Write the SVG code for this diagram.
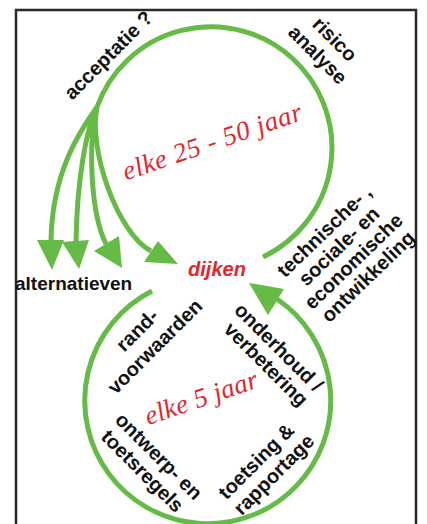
<svg xmlns="http://www.w3.org/2000/svg" width="427" height="524" viewBox="0 0 427 524">
  <style>
    .lbl { font-family: "Liberation Sans", Arial, sans-serif; font-weight: bold; font-size: 20px; fill: #111; text-anchor: middle; }
    .hand { font-family: "Liberation Serif", "Times New Roman", serif; font-style: italic; font-size: 27px; fill: #e3262b; text-anchor: middle; }
    .flow { fill: none; stroke: #66bb46; stroke-width: 5; stroke-linecap: butt; }
    .head { fill: #66bb46; stroke: none; }
    .frame { fill: none; stroke: #2a2a2a; stroke-width: 2.5; }
  </style>
  <rect x="0" y="0" width="427" height="524" fill="#ffffff"/>
  <rect class="frame" x="16" y="10" width="400" height="530"/>

  <g id="connectors">
    <!-- top cycle (elke 25 - 50 jaar) -->
    <path class="flow" d="M263,257 A121,121 0 1 0 97,107"/>
    <path class="flow" d="M97,107 C82,128 52,170 51,241"/>
    <polygon class="head" points="37,240 64,240 52,270"/>
    <path class="flow" d="M97,107 C86,130 77,180 76,242"/>
    <polygon class="head" points="62,242 89,240 79,269"/>
    <path class="flow" d="M97,107 C88,140 90,212 106,244"/>
    <polygon class="head" points="94,251 119,236 122,268"/>
    <path class="flow" d="M97,107 C88,150 118,234 151,251"/>
    <polygon class="head" points="144,262 158,241 178,264"/>
    <!-- bottom cycle (elke 5 jaar) -->
    <path class="flow" d="M152,291 A123,123 0 1 0 277,299"/>
    <polygon class="head" points="249,283 284,289 268,315"/>
  </g>

  <g id="dijken"><text x="217" y="276" style="font-family:'Liberation Sans',Arial,sans-serif;font-weight:bold;font-style:italic;font-size:20px;fill:#e3262b;text-anchor:middle">dijken</text></g>
  <g id="alternatieven"><text x="15" y="290" class="lbl" style="text-anchor:start;font-size:19px">alternatieven</text></g>
  <g id="acceptatie" transform="translate(113,60) rotate(-45)"><text class="lbl" x="0" y="0">acceptatie ?</text></g>
  <g id="risico" transform="translate(330,44) rotate(45)"><text class="lbl" x="0" y="0">risico<tspan x="-1" dy="23">analyse</tspan></text></g>
  <g id="ontwikkeling" transform="translate(329,236) rotate(-44)"><text class="lbl" x="0" y="0">technische- ,<tspan x="0" dy="21">sociale- en</tspan><tspan x="0" dy="21">economische</tspan><tspan x="0" dy="21">ontwikkeling</tspan></text></g>
  <g id="elke25" transform="translate(215,150) rotate(-19)"><text class="hand" x="0" y="0" textLength="188" lengthAdjust="spacing">elke 25 - 50 jaar</text></g>
  <g id="randvoorwaarden" transform="translate(142,335) rotate(-45)"><text class="lbl" x="0" y="0">rand-<tspan x="1" dy="24">voorwaarden</tspan></text></g>
  <g id="onderhoud" transform="translate(274,352) rotate(45)"><text class="lbl" x="0" y="0">onderhoud /<tspan x="3" dy="21">verbetering</tspan></text></g>
  <g id="elke5" transform="translate(204,406) rotate(-19)"><text class="hand" x="0" y="0" textLength="118" lengthAdjust="spacing">elke 5 jaar</text></g>
  <g id="ontwerp" transform="translate(154,461) rotate(45)"><text class="lbl" x="0" y="0">ontwerp- en<tspan x="-1" dy="22">toetsregels</tspan></text></g>
  <g id="toetsing" transform="translate(261,466) rotate(-45)"><text class="lbl" x="0" y="0">toetsing &amp;<tspan x="3" dy="22">rapportage</tspan></text></g>
</svg>
